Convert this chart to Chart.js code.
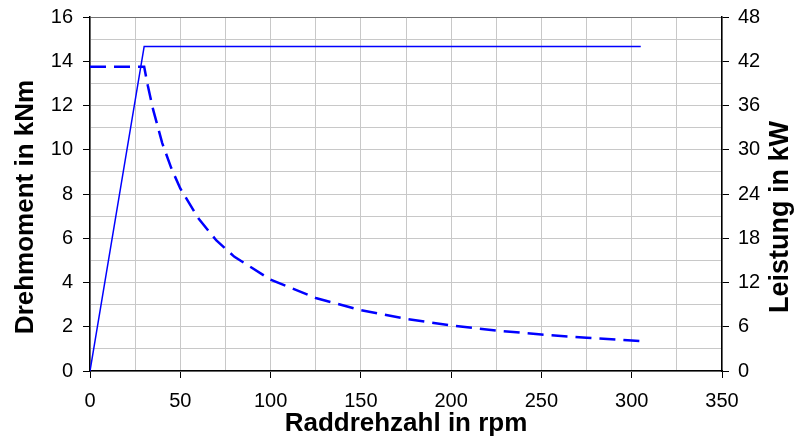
<!DOCTYPE html>
<html>
<head>
<meta charset="utf-8">
<script src="https://cdn.jsdelivr.net/npm/chart.js@4"></script>
<style>
  html, body { margin: 0; padding: 0; background: #fff; }
  #wrap { width: 795px; height: 445px; }
</style>
</head>
<body>
<div id="wrap"><canvas id="chart" width="795" height="445"></canvas></div>
<script>
// Leistung (durchgezogen, rechte Achse)
const rpmPower = [0, 30, 305];
const power = [0, 44, 44];

// Drehmoment (gestrichelt, linke Achse)
const rpmTorque = [0, 30, 32, 35, 40, 45, 50, 60, 70, 80, 100, 125, 150, 175, 200, 225, 250, 275, 300, 305];
const torque = [13.75, 13.75, 12.9, 11.8, 10.3, 9.17, 8.25, 6.9, 5.9, 5.16, 4.13, 3.3, 2.75, 2.36, 2.06, 1.83, 1.65, 1.5, 1.38, 1.35];

const xTicks = [0, 50, 100, 150, 200, 250, 300, 350];
const leftTicks = [0, 2, 4, 6, 8, 10, 12, 14, 16];
const rightTicks = [0, 6, 12, 18, 24, 30, 36, 42, 48];

const fontFamily = "'Liberation Sans', Arial, sans-serif";
const blue = '#0000ff';

const toPoints = (xs, ys) => xs.map((x, i) => ({ x: x, y: ys[i] }));

// Achsentitel links/rechts, beide von unten nach oben (wie Excel)
const sideTitles = {
  id: 'sideTitles',
  afterDraw(chart) {
    const ctx = chart.ctx;
    const draw = (text, x, y, size) => {
      ctx.save();
      ctx.translate(x, y);
      ctx.rotate(-Math.PI / 2);
      ctx.font = 'bold ' + size + 'px ' + fontFamily;
      ctx.fillStyle = '#000';
      ctx.textAlign = 'center';
      ctx.textBaseline = 'middle';
      ctx.fillText(text, 0, 0);
      ctx.restore();
    };
    draw('Drehmoment in kNm', 25.5, 207, 26);
    draw('Leistung in kW', 780.5, 217, 27);
  }
};

const noVerticalPadding = (scale, w) => {
  scale.width = w;
  scale.paddingTop = 0;
  scale.paddingBottom = 0;
};

const ctx = document.getElementById('chart').getContext('2d');

const chart = new Chart(ctx, {
  type: 'line',
  data: {
    datasets: [
      {
        label: 'Leistung',
        data: toPoints(rpmPower, power),
        yAxisID: 'y1',
        borderColor: blue,
        borderWidth: 1.5,
        pointRadius: 0,
        fill: false
      },
      {
        label: 'Drehmoment',
        data: toPoints(rpmTorque, torque),
        yAxisID: 'y',
        borderColor: blue,
        borderWidth: 2.5,
        borderDash: [16, 8],
        pointRadius: 0,
        fill: false
      }
    ]
  },
  options: {
    responsive: false,
    animation: false,
    layout: { padding: { top: 17, left: 0, right: 0, bottom: 0 } },
    plugins: {
      legend: { display: false },
      tooltip: { enabled: false }
    },
    scales: {
      x: {
        type: 'linear',
        min: 0,
        max: 350,
        afterFit: (scale) => { scale.height = 74; },
        ticks: {
          stepSize: 25,
          autoSkip: false,
          maxRotation: 0,
          padding: 11,
          color: '#000',
          font: { family: fontFamily, size: 20 },
          callback: (v) => xTicks.includes(v) ? v : ''
        },
        grid: {
          color: '#c8c8c8',
          tickLength: 7,
          tickColor: (c) => xTicks.includes(c.tick.value) ? '#000' : 'transparent'
        },
        border: { color: '#000', width: 1.5 },
        title: {
          display: true,
          text: 'Raddrehzahl in rpm',
          color: '#000',
          padding: { top: 0, bottom: 6 },
          font: { family: fontFamily, size: 26, weight: 'bold' }
        }
      },
      y: {
        position: 'left',
        min: 0,
        max: 16,
        afterFit: (scale) => noVerticalPadding(scale, 90),
        ticks: {
          stepSize: 1,
          autoSkip: false,
          padding: 10,
          color: '#000',
          font: { family: fontFamily, size: 20 },
          callback: (v) => leftTicks.includes(v) ? v : ''
        },
        grid: {
          color: (c) => c.tick.value === 16 ? '#707070' : '#c8c8c8',
          tickLength: 7,
          tickColor: (c) => leftTicks.includes(c.tick.value) ? '#000' : 'transparent'
        },
        border: { color: '#000', width: 1.5 }
      },
      y1: {
        position: 'right',
        min: 0,
        max: 48,
        afterFit: (scale) => noVerticalPadding(scale, 73),
        ticks: {
          stepSize: 6,
          autoSkip: false,
          padding: 9,
          color: '#000',
          font: { family: fontFamily, size: 20 },
          callback: (v) => rightTicks.includes(v) ? v : ''
        },
        grid: {
          drawOnChartArea: false,
          tickLength: 7,
          tickColor: '#000'
        },
        border: { color: '#000', width: 1.5 }
      }
    }
  },
  plugins: [sideTitles]
});
</script>
</body>
</html>
